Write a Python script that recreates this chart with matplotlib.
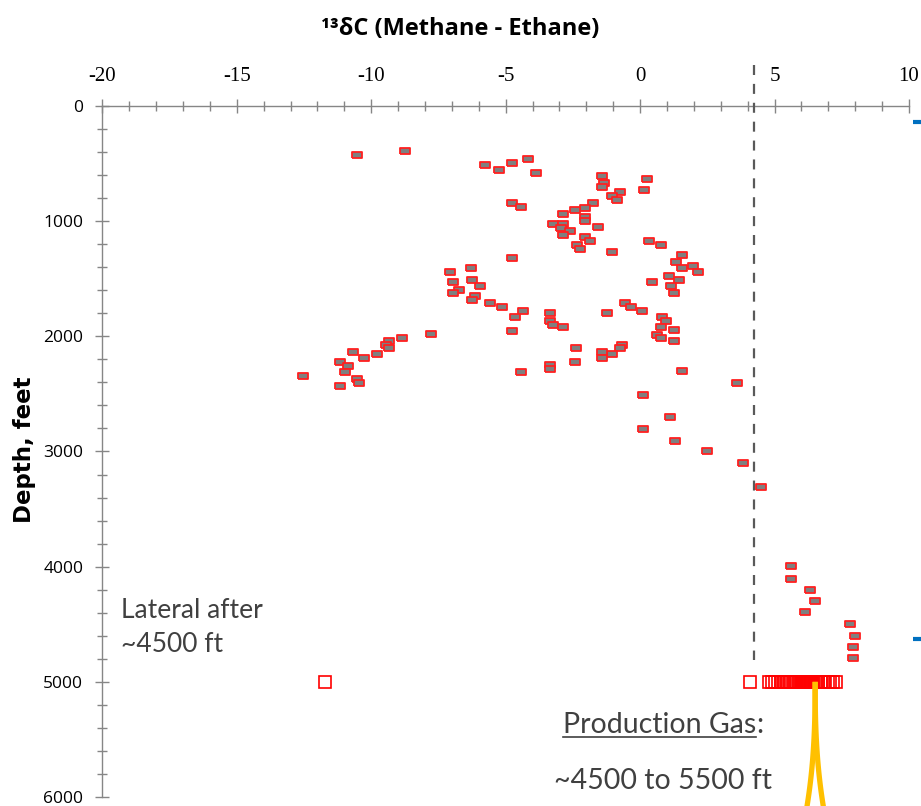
import matplotlib
matplotlib.use("Agg")
import matplotlib.pyplot as plt
import numpy as np
from matplotlib.ticker import MultipleLocator

plt.rcParams["axes.unicode_minus"] = False

# ---------------- data ----------------
delta_c = [
    -10.52, -8.75, -5.75, -5.24, -4.75, -4.18, -4.75, -4.44, -4.75, -6.30,
    -7.06, -6.95, -6.26, -5.94, -6.75, -6.95, -6.13, -6.26, -5.57, -5.13,
    -4.36, -4.64, -4.75, -3.86, -1.43, -1.34, -1.43, 0.26, 0.13, -0.73,
    -1.05, -0.86, -1.74, -2.05, -2.43, -2.87, -2.05, -2.05, -3.24, -2.87,
    -2.95, -2.62, -1.55, -2.87, -2.05, -1.86, -2.36, -2.25, -1.05, 0.33,
    0.76, 1.57, 1.32, 1.57, 1.95, 2.14, 1.06, 1.44, 0.46, 1.14,
    1.25, -3.36, -3.36, -3.24, -2.87, -1.24, -0.55, -0.35, 0.07, 0.83,
    0.95, 0.77, 1.25, 0.64, 0.77, 1.25, -2.39, -2.43, -0.66, -0.73,
    -1.06, -1.43, -1.43, -3.36, -3.36, -4.44, 1.54, 3.62, 0.11, 1.11,
    0.11, 1.31, 2.50, 3.81, 4.50, -7.76, -8.84, -9.33, -9.46, -9.33,
    -9.78, -10.25, -10.66, -11.15, -10.85, -10.96, -12.55, -10.54, -10.46, -11.15,
    5.63, 5.63, 6.31, 6.51, 6.13, 7.81, 8.01, 7.92, 7.92,
]
depth_ft = [
    428, 393, 512, 556, 492, 460, 845, 880, 1322, 1409,
    1444, 1531, 1508, 1563, 1594, 1626, 1647, 1681, 1710, 1745,
    1777, 1832, 1950, 579, 608, 666, 700, 634, 729, 749,
    781, 816, 845, 883, 903, 935, 966, 1001, 1021, 1021,
    1056, 1085, 1053, 1120, 1140, 1172, 1207, 1239, 1270, 1172,
    1207, 1293, 1357, 1409, 1389, 1444, 1476, 1508, 1531, 1563,
    1626, 1800, 1863, 1898, 1921, 1800, 1713, 1747, 1780, 1832,
    1866, 1921, 1948, 1985, 2017, 2037, 2104, 2222, 2072, 2104,
    2156, 2132, 2188, 2251, 2286, 2309, 2297, 2407, 2506, 2700,
    2806, 2905, 3000, 3099, 3305, 1982, 2017, 2037, 2072, 2104,
    2156, 2190, 2132, 2222, 2254, 2309, 2341, 2373, 2407, 2428,
    3996, 4106, 4201, 4300, 4395, 4494, 4601, 4699, 4795,
]

# production gas samples (plotted at 5000 ft)
prod_delta_c = [
    -11.72, 4.09,
    4.80, 4.90, 5.01, 5.12, 5.23, 5.31, 5.38, 5.47, 5.55, 5.62, 5.72, 5.80, 5.90,
    6.00, 6.02, 6.04, 6.06, 6.08, 6.10, 6.11, 6.13, 6.15, 6.17, 6.19, 6.21,
    6.23, 6.25, 6.26, 6.28, 6.30, 6.32, 6.34, 6.36, 6.38, 6.40,
    6.45, 6.55, 6.63, 6.72, 6.80, 6.88, 6.97, 7.08, 7.19, 7.30,
]
prod_depth = 5000

cutoff_x = 4.22
x_ticks = [-20, -15, -10, -5, 0, 5, 10]
y_ticks = [0, 1000, 2000, 3000, 4000, 5000, 6000]

# ---------------- figure ----------------
W, H = 921, 806
fig = plt.figure(figsize=(W / 100, H / 100), dpi=100)
ax = fig.add_axes([102.3 / W, 1 - 797 / H, (909 - 102.3) / W, (797 - 106) / H])

axis_col = "#868686"
ax.set_xlim(-20, 10)
ax.set_ylim(6000, 0)
ax.xaxis.tick_top()
ax.set_xticks(x_ticks)
ax.set_yticks(y_ticks)
ax.xaxis.set_minor_locator(MultipleLocator(1))
ax.yaxis.set_minor_locator(MultipleLocator(200))
for s in ["right", "bottom"]:
    ax.spines[s].set_visible(False)
for s in ["top", "left"]:
    ax.spines[s].set_color(axis_col)
    ax.spines[s].set_linewidth(1.0)
ax.tick_params(axis="both", which="major", direction="inout", length=9.5,
               width=1.0, color=axis_col)
ax.tick_params(axis="both", which="minor", direction="inout", length=6.5,
               width=1.0, color=axis_col)
ax.tick_params(axis="x", which="major", pad=10, labelsize=15)
ax.tick_params(axis="y", which="major", pad=9, labelsize=12.5)
for lab in ax.get_xticklabels():
    lab.set_fontfamily("Liberation Serif")
for lab in ax.get_yticklabels():
    lab.set_fontfamily("Open Sans")

# rectangle marker
rect = [(-1, -0.55), (1, -0.55), (1, 0.55), (-1, 0.55), (-1, -0.55)]
ax.plot(delta_c, depth_ft, linestyle="none", marker=rect, markersize=7.5,
        markerfacecolor="#7f7f7f", markeredgecolor="#ff2020",
        markeredgewidth=1.3, zorder=4)

# production gas
ax.plot(prod_delta_c, [prod_depth] * len(prod_delta_c), linestyle="none",
        marker="s", markersize=8, markerfacecolor="none",
        markeredgecolor="#ff0000", markeredgewidth=1.2, zorder=4)

# cutoff dashed line
ax.plot([cutoff_x, cutoff_x], [-356, 4810], color="#595959", lw=1.6,
        dashes=(4.5, 4), clip_on=False, zorder=3)

# blue stubs at right edge
for d in [136, 4629]:
    ax.plot([10.15, 10.5], [d, d], color="#0070c0", lw=3, clip_on=False,
            solid_capstyle="butt")

# yellow wellbore lines
t = np.linspace(0, 1, 60)
yy = 5000 + t * 1090
for sgn in (-1, 1):
    xx = 6.51 + sgn * 0.31 * t ** 2.5
    ax.plot(xx, yy, color="#ffc000", lw=3.8, clip_on=False, zorder=5,
            solid_capstyle="butt")

# ---------------- texts ----------------
fig.text(460 / W, 1 - 29 / H, "\u00b9\u00b3\u03b4C (Methane - Ethane)",
         ha="center", va="center", fontsize=17, fontweight="bold",
         family="Open Sans")
fig.text(25 / W, 1 - 450 / H, "Depth, feet", rotation=90, ha="center",
         va="center", fontsize=16.5, fontweight="bold", family="DejaVu Sans")

txtc = "#404040"
fs_lat = 19
fs_prod = 20.5
fig.text(121 / W, 1 - 611 / H, "Lateral after", ha="left", va="center",
         fontsize=fs_lat, family="Lato", color=txtc)
fig.text(121 / W, 1 - 645 / H, "~4500 ft", ha="left", va="center",
         fontsize=fs_lat, family="Lato", color=txtc)

tp = fig.text(563 / W, 1 - 725 / H, "Production Gas", ha="left", va="center",
              fontsize=fs_prod, family="Lato", color=txtc)
fig.text(663 / W, 1 - 781 / H, "~4500 to 5500 ft", ha="center", va="center",
         fontsize=fs_prod, family="Lato", color=txtc)

fig.canvas.draw()
bb = tp.get_window_extent()
x0, x1 = bb.x0 / W, bb.x1 / W
fig.text(x1, 1 - 725 / H, ":", ha="left", va="center", fontsize=fs_prod,
         family="Lato", color=txtc)
uy = (bb.y0 + 1) / H
fig.add_artist(plt.Line2D([x0, x1], [uy, uy], color=txtc, lw=1.2,
                          transform=fig.transFigure))

fig.savefig("out.png", dpi=100)
